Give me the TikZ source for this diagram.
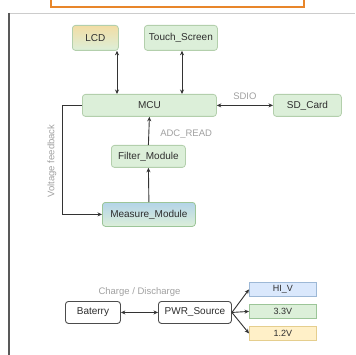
\documentclass[tikz,border=0pt]{standalone}
\usepackage{fontspec}
\setmainfont{Liberation Sans}
\usetikzlibrary{arrows.meta,calc}
\definecolor{gfill}{HTML}{DCEFD9}
\definecolor{gdraw}{HTML}{B3CFAC}
\definecolor{txt}{HTML}{2E2E2E}
\definecolor{lbl}{HTML}{A0A0A0}
\definecolor{arrc}{HTML}{333333}
\definecolor{orng}{HTML}{E8862A}
\definecolor{lcdtop}{HTML}{F2DDA4}
\definecolor{meastop}{HTML}{B3D4E8}
\definecolor{bfill}{HTML}{DAE8FC}
\definecolor{bdraw}{HTML}{9DB8D6}
\definecolor{yfill}{HTML}{FFF0C8}
\definecolor{ydraw}{HTML}{E5CE8E}
\definecolor{g2draw}{HTML}{9CC598}
\tikzset{
  x=1pt,y=-1pt,
  blk/.style={draw=gdraw,fill=gfill,rounded corners=3pt,line width=0.8pt,text=txt,font=\fontsize{10}{11}\selectfont,inner sep=0pt,anchor=north west},
  wblk/.style={draw=black!70,fill=white,rounded corners=3pt,line width=0.9pt,text=txt,font=\fontsize{10}{11}\selectfont,inner sep=0pt,anchor=north west},
  vblk/.style={line width=0.8pt,text=txt,font=\fontsize{9}{10}\selectfont,inner sep=0pt,anchor=north west},
  arr/.style={draw=arrc,line width=0.9pt,-{Stealth[length=4.5pt,width=4pt]}},
  darr/.style={draw=arrc,line width=0.9pt,{Stealth[length=4.5pt,width=4pt]}-{Stealth[length=4.5pt,width=4pt]}},
  lab/.style={text=lbl,font=\fontsize{9.5}{10}\selectfont,inner sep=0pt},
}
\begin{document}
\begin{tikzpicture}
\useasboundingbox (0,0) rectangle (355,355);
% frame
\draw[draw=orng,line width=2.5pt] (51,-6) rectangle (304,7);
\draw[black!20,line width=0.8pt] (9,13) -- (355,13);
\draw[black!65,line width=1.6pt] (9,13) -- (9,355);
% nodes
\node[blk,top color=lcdtop,bottom color=gfill,minimum width=46pt,minimum height=25pt] (lcd) at (72,25) {LCD};
\node[blk,minimum width=73pt,minimum height=25pt] (touch) at (144,25) {Touch\_Screen};
\node[blk,minimum width=134pt,minimum height=22pt] (mcu) at (82,94) {MCU};
\node[blk,minimum width=68pt,minimum height=22pt] (sd) at (273,94) {SD\_Card};
\node[blk,minimum width=74pt,minimum height=22pt] (filter) at (111,145) {Filter\_Module};
\node[blk,draw=g2draw,top color=meastop,bottom color=gfill,minimum width=93pt,minimum height=24pt] (meas) at (102,202) {Measure\_Module};
\node[wblk,minimum width=55pt,minimum height=22pt] (bat) at (65,301) {Baterry};
\node[wblk,minimum width=73pt,minimum height=22pt] (pwr) at (158,301) {PWR\_Source};
\node[vblk,draw=bdraw,fill=bfill,minimum width=67pt,minimum height=14pt] (hiv) at (249,282) {HI\_V};
\node[vblk,draw=g2draw,fill=gfill,minimum width=67pt,minimum height=14pt] (v33) at (249,304) {3.3V};
\node[vblk,draw=ydraw,fill=yfill,minimum width=67pt,minimum height=14pt] (v12) at (249,326) {1.2V};
% connectors
\coordinate (lx) at (117,0);
\coordinate (tx) at (182,0);
\draw[darr] (lx |- lcd.south) -- (lx |- mcu.north);
\draw[darr] (tx |- touch.south) -- (tx |- mcu.north);
\draw[darr] (mcu.east) -- node[lab,above=5pt] {SDIO} (sd.west);
\draw[arr] (filter.north) -- node[lab,right=11pt,pos=0.4] {ADC\_READ} (mcu.south);
\draw[arr] (meas.north) -- (filter.south);
\draw[arr] (mcu.west) -- ++(-20,0) |- (meas.west);
\node[lab,rotate=90] (vf) at (52,161) {Voltage feedback};
\draw[darr] (bat.east) -- node[lab,above=16pt] {Charge / Discharge} (pwr.west);
\draw[arr] (pwr.east) -- (hiv.west);
\draw[arr] (pwr.east) -- (v33.west);
\draw[arr] (pwr.east) -- (v12.west);
\end{tikzpicture}
\end{document}
